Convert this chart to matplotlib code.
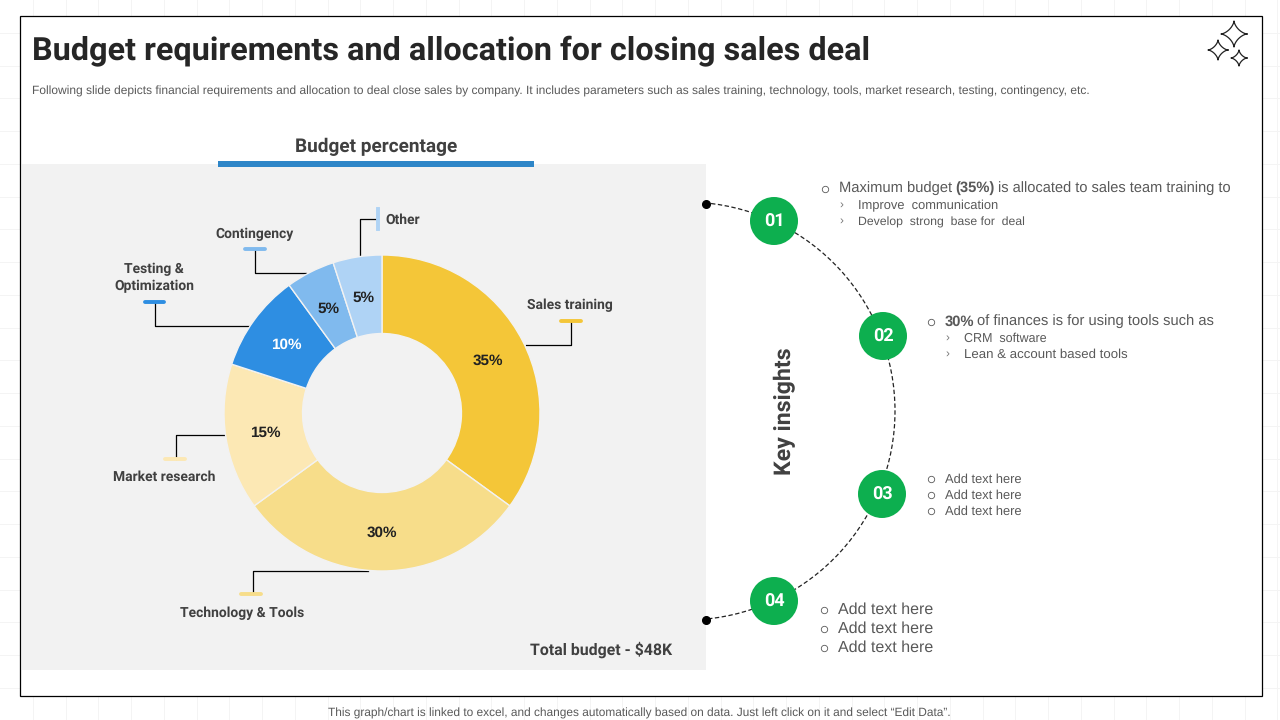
#!/usr/bin/env python
import matplotlib
matplotlib.use('Agg')
import matplotlib.pyplot as plt
import matplotlib.patches as mpatches
import numpy as np

plt.rcParams['font.family'] = ['Liberation Sans', 'DejaVu Sans']
plt.rcParams['text.hinting'] = 'no_hinting'
plt.rcParams['text.hinting_factor'] = 8

W, H = 1280, 720

# chart data
slice_names = ['Sales training', 'Technology & Tools', 'Market research',
               'Testing &\nOptimization', 'Contingency', 'Other']
slice_values = [35, 30, 15, 10, 5, 5]
slice_colors = ['#F4C638', '#F7DD8A', '#FCE8B4', '#2E8EE2', '#80BAEE', '#AFD3F5']
slice_text_colors = ['#222222', '#222222', '#222222', '#FFFFFF', '#222222', '#222222']

title = 'Budget requirements and allocation for closing sales deal'
subtitle = ('Following slide depicts financial requirements and allocation to deal close sales by company. '
            'It includes parameters such as sales training, technology, tools, market research, testing, contingency, etc.')
footer = 'This graph/chart is linked to excel, and changes automatically based on data. Just left click on it and select \u201cEdit Data\u201d.'
step_labels = ['01', '02', '03', '04']
add_text = 'Add text here'

DARK = '#404040'
GREY = '#595959'
GREEN = '#0DAF4F'
HEAD = 'Roboto'

fig = plt.figure(figsize=(W / 100, H / 100), dpi=100, facecolor='white')
ax = fig.add_axes([0, 0, 1, 1])
ax.set_xlim(0, W)
ax.set_ylim(H, 0)
ax.axis('off')

# faint slide grid behind the frame
for x in np.arange(32.75, W, 32.75):
    ax.plot([x, x], [0, H], color='#F4F4F4', lw=0.72, zorder=0)
for y in np.arange(32.75, H, 32.75):
    ax.plot([0, W], [y, y], color='#F4F4F4', lw=0.72, zorder=0)

ax.add_patch(mpatches.Rectangle((20, 16), 1242, 680, fc='white', ec='black', lw=0.9, zorder=1))
ax.add_patch(mpatches.Rectangle((22, 164), 684, 506, fc='#F2F2F2', ec='none', zorder=1))

ax.text(32, 50.5, title, fontsize=23.35, fontweight='bold', family=HEAD, color='#262626', va='center', ha='left', zorder=3)
ax.text(32, 91, subtitle, fontsize=8.67, color=GREY, va='center', ha='left', zorder=3)
ax.text(639.5, 713, footer, fontsize=8.6, color=GREY, va='center', ha='center', zorder=3)

ax.text(376.5, 146.5, 'Budget percentage', fontsize=13.7, fontweight='bold', family=HEAD, color=DARK, va='center', ha='center', zorder=3)
ax.add_patch(mpatches.Rectangle((218, 161), 316, 6, fc='#2E86C8', ec='none', zorder=3))
ax.text(672, 650, 'Total budget - $48K', fontsize=11.45, fontweight='bold', family=HEAD, color=DARK, va='center', ha='right', zorder=3)


def sparkle(cx, cy, r):
    t = np.linspace(0, 2 * np.pi, 200)
    xs = cx + r * np.sign(np.cos(t)) * np.abs(np.cos(t)) ** 3
    ys = cy + r * np.sign(np.sin(t)) * np.abs(np.sin(t)) ** 3
    ax.plot(xs, ys, color='#222222', lw=0.9, zorder=3)


sparkle(1234, 34, 13)
sparkle(1218, 50, 10)
sparkle(1239, 58, 8)

# donut in its own axes, centred on the picture's ring
cx, cy, r = 382, 413, 158
pie_ax = fig.add_axes([(cx - r) / W, 1 - (cy + r) / H, 2 * r / W, 2 * r / H])
pie_ax.set_zorder(2)
wedges, _ = pie_ax.pie(slice_values, colors=slice_colors, startangle=90, counterclock=False, radius=1,
                       wedgeprops=dict(width=0.497, edgecolor='#F2F2F2', linewidth=1.0))
pie_ax.set_xlim(-1, 1)
pie_ax.set_ylim(-1, 1)
for w, v, c in zip(wedges, slice_values, slice_text_colors):
    a = np.deg2rad((w.theta1 + w.theta2) / 2)
    pie_ax.text(0.75 * np.cos(a), 0.75 * np.sin(a) - 0.01, '%d%%' % v, fontsize=11, fontweight='bold',
                color=c, va='center', ha='center')

# leader lines, colour tags and slice names
leaders = [
    [(526, 345), (571, 345), (571, 321)],
    [(368, 571), (253, 571), (253, 594)],
    [(226, 435), (176, 435), (176, 459)],
    [(249, 326), (155, 326), (155, 302)],
    [(306, 273), (255, 273), (255, 249)],
    [(360, 256), (360, 219), (377, 219)],
]
for pts in leaders:
    ax.plot(*zip(*pts), color='black', lw=0.9, zorder=3)

tags = [(561, 321, 20), (241, 594, 20), (165, 459, 20), (145, 302, 19), (245, 249, 20)]
for (x, y, w), c in zip(tags, slice_colors):
    ax.plot([x, x + w], [y, y], color=c, lw=2.8, solid_capstyle='round', zorder=4)
ax.plot([378, 378], [209, 229], color=slice_colors[5], lw=2.8, zorder=4)

name_pos = [(570, 305.5), (242, 613.5), (164, 477.5), (154, 278), (255, 234.5), (403, 220.5)]
for name, (x, y) in zip(slice_names, name_pos):
    ax.text(x, y, name, fontsize=10, fontweight='bold', family=HEAD, color=DARK, va='center', ha='center',
            linespacing=1.35, zorder=4)

# key insights arc and steps
ax.add_patch(mpatches.Arc((686, 411), 418, 418, theta1=-85, theta2=85, ec='#222222', lw=0.9, ls=(0, (3.5, 2)), zorder=2))
ax.plot([706, 706], [203.5, 619.5], ls='none', marker='o', ms=5.5, color='black', zorder=3)
ax.text(785, 411, 'Key insights', fontsize=16.7, fontweight='bold', family=HEAD, color=DARK, rotation=90, va='center', ha='center', zorder=3)

step_pos = [(774, 221), (883, 336), (882, 494), (774, 601)]
for label, (x, y) in zip(step_labels, step_pos):
    ax.add_patch(mpatches.Circle((x, y), 24, fc=GREEN, ec='none', zorder=4))
    ax.text(x + 0.5, y + 0.5, label, fontsize=13, fontweight='bold', family=HEAD, color='white', va='center', ha='center', zorder=5)


def bullet(x, y):
    ax.plot([x], [y], ls='none', marker='o', ms=4.6, mfc='none', mec=GREY, mew=0.6, zorder=3)


def chevron(x, y):
    ax.text(x, y, '\u203a', fontsize=8.5, color='#777777', va='center', ha='center', zorder=3)


# step 01
bullet(825, 189)
ax.text(839, 188.5, 'Maximum budget', fontsize=10.6, color=GREY, va='center', zorder=3)
ax.text(955, 188.5, '(35%)', fontsize=10.6, fontweight='bold', color=GREY, va='center', zorder=3)
ax.text(998, 188.5, 'is allocated to sales team training to', fontsize=10.55, color=GREY, va='center', zorder=3)
chevron(841, 205)
ax.text(858, 206, 'Improve  communication', fontsize=9.25, color=GREY, va='center', zorder=3)
chevron(841, 221)
ax.text(858, 222, 'Develop  strong  base for  deal', fontsize=8.85, color=GREY, va='center', zorder=3)

# step 02
bullet(931, 322)
ax.text(945, 321.5, '30%', fontsize=10.6, fontweight='bold', color=GREY, va='center', zorder=3)
ax.text(977, 321.5, 'of finances is for using tools such as', fontsize=10.6, color=GREY, va='center', zorder=3)
chevron(947, 338)
ax.text(964, 339, 'CRM  software', fontsize=9, color=GREY, va='center', zorder=3)
chevron(947, 354)
ax.text(964, 355, 'Lean & account based tools', fontsize=9.5, color=GREY, va='center', zorder=3)

# step 03
for y in [479, 495, 511]:
    bullet(931, y)
    ax.text(945, y + 1, add_text, fontsize=9.25, color=GREY, va='center', zorder=3)

# step 04
for y in [609, 628, 647]:
    bullet(824, y + 0.5)
    ax.text(838, y + 1, add_text, fontsize=11.5, color=GREY, va='center', zorder=3)

fig.savefig('out.png', dpi=100, facecolor='white')
